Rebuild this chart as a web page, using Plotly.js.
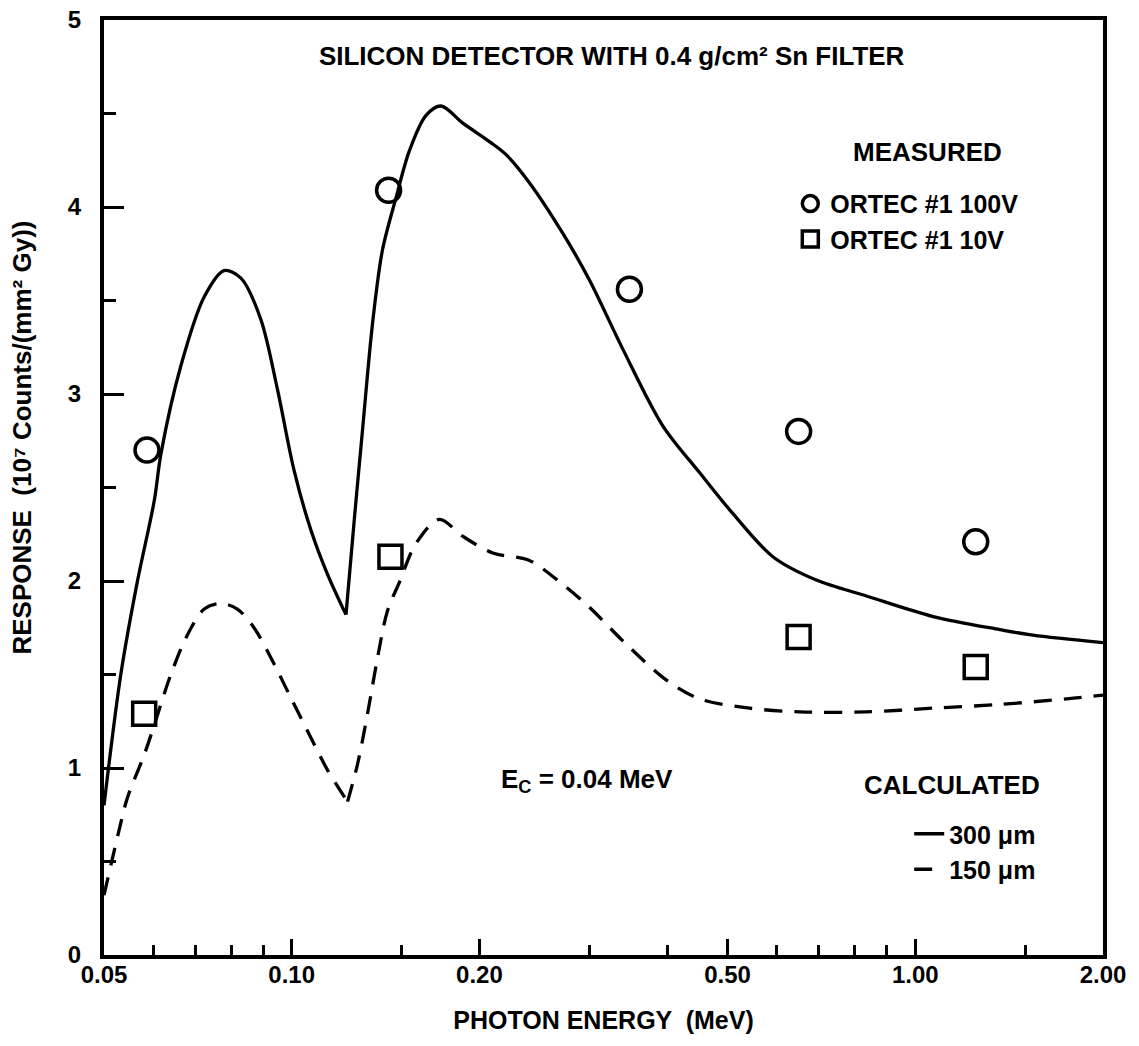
<!DOCTYPE html>
<html>
<head>
<meta charset="utf-8">
<script src="https://cdn.plot.ly/plotly-3.0.1.min.js"></script>
<style>
  html, body { margin: 0; padding: 0; background: #ffffff; }
  #chart { width: 1139px; height: 1046px; }
</style>
</head>
<body>
<div id="chart"></div>
<script>
// ---- Data ----
// Measured: ORTEC #1 at 100 V (open circles)
const measured100V_energy = [0.0586, 0.143, 0.348, 0.650, 1.25];
const measured100V_resp   = [2.70, 4.09, 3.56, 2.80, 2.21];

// Measured: ORTEC #1 at 10 V (open squares)
const measured10V_energy = [0.058, 0.144, 0.650, 1.25];
const measured10V_resp   = [1.29, 2.13, 1.70, 1.54];

// Calculated: 300 um (solid)
const calc300_energy = [0.05, 0.0532, 0.0565, 0.0602, 0.0617, 0.0664, 0.0724, 0.0779, 0.0829, 0.0892,
  0.0948, 0.1009, 0.1074, 0.1140, 0.1222, 0.1260, 0.1299, 0.1348, 0.1398, 0.1470,
  0.1544, 0.1642, 0.1736, 0.1879, 0.2075, 0.2207, 0.2405, 0.2720, 0.3002, 0.3396,
  0.3936, 0.4508, 0.510, 0.591, 0.694, 0.835, 1.068, 1.366, 1.544, 2.0];
const calc300_resp = [0.80, 1.50, 1.99, 2.43, 2.68, 3.15, 3.52, 3.66, 3.62, 3.40,
  3.03, 2.59, 2.27, 2.04, 1.82, 2.33, 2.81, 3.38, 3.77, 4.05,
  4.30, 4.49, 4.54, 4.45, 4.35, 4.28, 4.13, 3.86, 3.61, 3.24,
  2.83, 2.58, 2.36, 2.13, 2.005, 1.92, 1.81, 1.74, 1.71, 1.67];

// Calculated: 150 um (dashed)
const calc150_energy = [0.05, 0.0528, 0.0545, 0.0580, 0.0602, 0.0640, 0.0680, 0.0724, 0.0769, 0.0818,
  0.0870, 0.0926, 0.0997, 0.1074, 0.1141, 0.1229, 0.1275, 0.1323, 0.1373, 0.1424,
  0.1487, 0.1582, 0.1725, 0.1879, 0.2101, 0.2405, 0.2655, 0.3002, 0.3396, 0.399,
  0.4508, 0.542, 0.6525, 0.835, 1.068, 1.366, 1.75, 2.0];
const calc150_resp = [0.32, 0.66, 0.84, 1.07, 1.23, 1.50, 1.71, 1.85, 1.88, 1.85,
  1.75, 1.59, 1.375, 1.16, 0.99, 0.82, 1.02, 1.29, 1.59, 1.84,
  1.99, 2.20, 2.33, 2.24, 2.15, 2.11, 2.01, 1.86, 1.68, 1.47,
  1.37, 1.32, 1.30, 1.30, 1.32, 1.34, 1.37, 1.39];

// Absorption-edge energy where the calculated curves have a sharp cusp
const edgeEnergy300 = 0.1222;
const edgeEnergy150 = 0.1229;

// Axis ticks
const xTickVals  = [0.05, 0.1, 0.2, 0.5, 1, 2];
const xTickText  = ['0.05', '0.10', '0.20', '0.50', '1.00', '2.00'];
const xMinorVals = [0.06, 0.07, 0.08, 0.09, 0.15, 0.3, 0.4, 0.6, 0.7, 0.8, 0.9, 1.5];
const yTickVals  = [0, 1, 2, 3, 4, 5];
const yMinorVals = [0.5, 1.5, 2.5, 3.5, 4.5];

const FONT = 'Liberation Sans, Arial, Helvetica, sans-serif';
const INK = '#000000';
const TXT = 25;

// split a curve at its cusp so each branch can be smoothed independently
function split(xs, ys, edge) {
  const k = xs.indexOf(edge);
  return [
    { x: xs.slice(0, k + 1), y: ys.slice(0, k + 1) },
    { x: xs.slice(k), y: ys.slice(k) }
  ];
}
const s300 = split(calc300_energy, calc300_resp, edgeEnergy300);
const s150 = split(calc150_energy, calc150_resp, edgeEnergy150);

const solidLine  = { color: INK, width: 3.3, dash: 'solid', shape: 'spline', smoothing: 0.9 };
const dashedLine = { color: INK, width: 3.3, dash: '18px,12px', shape: 'spline', smoothing: 0.9 };

const traces = [
  {
    x: measured100V_energy, y: measured100V_resp, type: 'scatter', mode: 'markers',
    name: '<b>ORTEC #1 100V</b>', legend: 'legend',
    marker: { symbol: 'circle-open', size: 24, color: INK, line: { width: 3.5, color: INK } },
    cliponaxis: false
  },
  {
    x: measured10V_energy, y: measured10V_resp, type: 'scatter', mode: 'markers',
    name: '<b>ORTEC #1 10V</b>', legend: 'legend',
    marker: { symbol: 'square-open', size: 23, color: INK, line: { width: 3.5, color: INK } },
    cliponaxis: false
  },
  {
    x: s300[0].x, y: s300[0].y, type: 'scatter', mode: 'lines',
    name: '<b>300 \u03bcm</b>', legend: 'legend2', legendgroup: 'c300',
    line: solidLine
  },
  {
    x: s300[1].x, y: s300[1].y, type: 'scatter', mode: 'lines',
    name: '<b>300 \u03bcm</b>', legend: 'legend2', legendgroup: 'c300', showlegend: false,
    line: solidLine
  },
  {
    x: s150[0].x, y: s150[0].y, type: 'scatter', mode: 'lines',
    name: '<b>150 \u03bcm</b>', legend: 'legend2', legendgroup: 'c150',
    line: dashedLine
  },
  {
    x: s150[1].x, y: s150[1].y, type: 'scatter', mode: 'lines',
    name: '<b>150 \u03bcm</b>', legend: 'legend2', legendgroup: 'c150', showlegend: false,
    line: dashedLine
  }
];

const layout = {
  width: 1139, height: 1046,
  margin: { l: 104, r: 36, t: 20, b: 91, pad: 0 },
  paper_bgcolor: '#ffffff', plot_bgcolor: '#ffffff',
  font: { family: FONT, color: INK, size: TXT },
  title: {
    text: '<b>SILICON DETECTOR WITH 0.4 g/cm\u00b2 Sn FILTER</b>',
    font: { family: FONT, size: 26, color: INK },
    x: 0.537, xanchor: 'center', xref: 'container',
    y: 0.947, yanchor: 'middle', yref: 'container'
  },
  showlegend: true,
  legend: {
    x: 0.687, xanchor: 'left', y: 0.828, yanchor: 'top',
    bgcolor: 'rgba(0,0,0,0)', borderwidth: 0,
    font: { family: FONT, size: TXT, color: INK },
    itemclick: false, tracegroupgap: 0
  },
  legend2: {
    x: 0.806, xanchor: 'left', y: 0.154, yanchor: 'top',
    bgcolor: 'rgba(0,0,0,0)', borderwidth: 0,
    font: { family: FONT, size: TXT, color: INK },
    itemclick: false, tracegroupgap: 0
  },
  xaxis: {
    type: 'log',
    range: [Math.log10(0.05), Math.log10(2)],
    tickmode: 'array', tickvals: xTickVals, ticktext: xTickText.map(t => '<b>' + t + '</b>'),
    ticks: 'inside', ticklen: 16, tickwidth: 3, tickcolor: INK,
    minor: { tickmode: 'array', tickvals: xMinorVals, ticks: 'inside', ticklen: 10, tickwidth: 3, tickcolor: INK, showgrid: false },
    showline: true, linewidth: 4, linecolor: INK, mirror: true,
    showgrid: false, zeroline: false,
    tickfont: { family: FONT, size: 24, color: INK },
    ticklabelstandoff: -5,
    title: { text: '<b>PHOTON ENERGY  (MeV)</b>', font: { family: FONT, size: 25, color: INK }, standoff: 26 },
    automargin: false, fixedrange: true
  },
  yaxis: {
    range: [0, 5],
    tickmode: 'array', tickvals: yTickVals, ticktext: yTickVals.map(v => '<b>' + v + '</b>'),
    ticks: 'inside', ticklen: 20, tickwidth: 3, tickcolor: INK,
    minor: { tickmode: 'array', tickvals: yMinorVals, ticks: 'inside', ticklen: 12, tickwidth: 3, tickcolor: INK, showgrid: false },
    showline: true, linewidth: 4, linecolor: INK, mirror: true,
    showgrid: false, zeroline: false,
    tickfont: { family: FONT, size: 24, color: INK },
    ticklabelstandoff: 14,
    automargin: false, fixedrange: true
  },
  annotations: [
    { text: '<b>RESPONSE  (10\u2077 Counts/(mm\u00b2 Gy))</b>', xref: 'paper', yref: 'paper',
      x: -0.082, y: 0.5535, xanchor: 'center', yanchor: 'middle', textangle: -90,
      showarrow: false, font: { family: FONT, size: 26, color: INK } },
    { text: '<b>MEASURED</b>', xref: 'paper', yref: 'paper', x: 0.824, y: 0.859,
      xanchor: 'center', yanchor: 'middle', showarrow: false, font: { family: FONT, size: 26, color: INK } },
    { text: '<b>CALCULATED</b>', xref: 'paper', yref: 'paper', x: 0.849, y: 0.182,
      xanchor: 'center', yanchor: 'middle', showarrow: false, font: { family: FONT, size: 26, color: INK } },
    { text: '<b>E<sub>C</sub> = 0.04 MeV</b>', xref: 'paper', yref: 'paper', x: 0.4835, y: 0.187,
      xanchor: 'center', yanchor: 'middle', showarrow: false, font: { family: FONT, size: 26, color: INK } }
  ]
};

Plotly.newPlot('chart', traces, layout, { displayModeBar: false, staticPlot: true });
</script>
</body>
</html>
